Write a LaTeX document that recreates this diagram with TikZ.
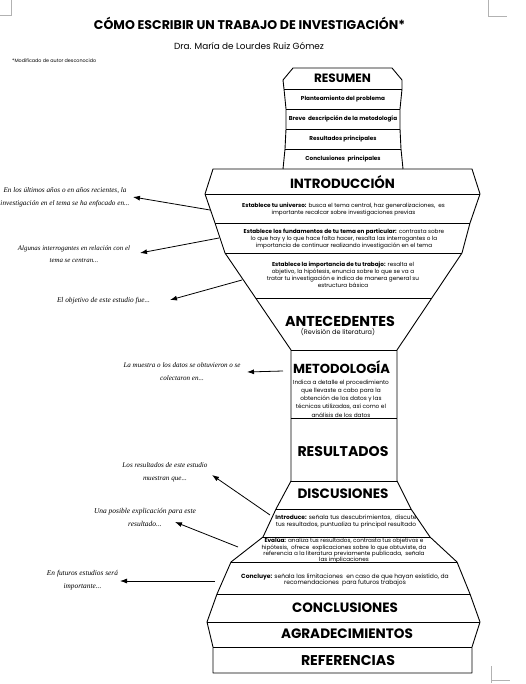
\documentclass[tikz,border=0pt]{standalone}
\usepackage{fontspec}
\newfontfamily\pop{Poppins}
\newfontfamily\hand{Liberation Serif}
\usetikzlibrary{arrows.meta,calc}
\newcommand{\hdtxt}[2]{\resizebox{#1pt}{!}{\pop\bfseries #2}}
\newcommand{\notetxt}[2]{\resizebox{#1pt}{!}{\hand\itshape\fontsize{10}{17.5}\selectfont\begin{tabular}{@{}c@{}}#2\end{tabular}}}
\begin{document}
\begin{tikzpicture}[x=1pt,y=-1pt,
  outl/.style={line width=0.9pt, line join=round},
  hd/.style={inner sep=0pt, anchor=center},
  rowtxt/.style={inner sep=0pt, font=\pop\bfseries\fontsize{5.7}{6}\selectfont},
  body/.style={inner sep=0pt, align=center, font=\pop\fontsize{5.7}{7}\selectfont},
  note/.style={inner sep=0pt, anchor=center},
  arr/.style={-{Latex[length=7pt,width=5pt]}, line width=0.8pt},
  cropmark/.style={black!30, line width=0.6pt}]
\fill[white] (0,0) rectangle (526,684);
\useasboundingbox (0,0) rectangle (526,684);

% crop marks
\draw[cropmark] (11,0) -- (11,15.5) -- (0,15.5);
\draw[cropmark] (488,0) -- (488,16) -- (507,16);
\draw[cropmark] (491,666) -- (491,683);
\draw[cropmark] (491,680) -- (510,680);

% title
\node[hd] (title) at (249.5,23) {\hdtxt{311}{CÓMO ESCRIBIR UN TRABAJO DE INVESTIGACIÓN*}};
\node[inner sep=0pt] (author) at (249,46) {\resizebox{150pt}{!}{\pop Dra. María de Lourdes Ruiz Gómez}};
\node[inner sep=0pt, anchor=west] (foot) at (12,61) {\resizebox{84pt}{!}{\pop *Modificado de autor desconocido}};

% ---------- RESUMEN ----------
\coordinate (RL0) at (293,68);  \coordinate (RR0) at (392,68);
\coordinate (RL1) at (283,80);  \coordinate (RR1) at (402,80);
\coordinate (RL2) at (284,89);  \coordinate (RR2) at (402,89);
\coordinate (RL3) at (286,109); \coordinate (RR3) at (400,109);
\coordinate (RL4) at (286,129); \coordinate (RR4) at (400,129);
\coordinate (RL5) at (285,149); \coordinate (RR5) at (401,149);
\coordinate (RL6) at (283,169); \coordinate (RR6) at (403,169);
\draw[outl] (RL6) -- (RL5) -- (RL4) -- (RL3) -- (RL2) -- (RL1) -- (RL0) -- (RR0)
  -- (RR1) -- (RR2) -- (RR3) -- (RR4) -- (RR5) -- (RR6);
\foreach \i in {2,3,4,5} \draw[outl] (RL\i) -- (RR\i);

% ---------- main outline ----------
\coordinate (IL0) at (213,169); \coordinate (IR0) at (472,169);
\coordinate (IL1) at (205,194); \coordinate (IR1) at (480,194);
\coordinate (IL2) at (215,223); \coordinate (IR2) at (470,223);
\coordinate (IL3) at (225,253); \coordinate (IR3) at (462,253);
\coordinate (ML0) at (291,350); \coordinate (MR0) at (397,350);
\coordinate (IL4) at ($(IL3)!0.464!(ML0)$);
\coordinate (IR4) at ($(IR3)!0.464!(MR0)$);
\coordinate (ML1) at (291,418); \coordinate (MR1) at (397,418);
\coordinate (ML2) at (291,481); \coordinate (MR2) at (397,481);
\coordinate (DL1) at (276,509); \coordinate (DR1) at (411,509);
\coordinate (EL1) at (263,537); \coordinate (ER1) at (430,537);
\coordinate (FL1) at (231,562); \coordinate (FR1) at (457,562);
\coordinate (GL1) at (217,594); \coordinate (GR1) at (470,594);
\coordinate (HL1) at (207,622); \coordinate (HR1) at (480,622);
\coordinate (KL1) at (213,647); \coordinate (KR1) at (472,647);
\coordinate (KL2) at (213,673); \coordinate (KR2) at (472,673);

\draw[outl] (IL0) -- (IL1) -- (IL2) -- (IL3) -- (ML0) -- (ML2) -- (DL1) -- (EL1)
  -- (FL1) -- (GL1) -- (HL1) -- (KL1) -- (KL2) -- (KR2) -- (KR1) -- (HR1) -- (GR1)
  -- (FR1) -- (ER1) -- (DR1) -- (MR2) -- (MR0) -- (IR3) -- (IR2) -- (IR1) -- (IR0) -- cycle;
\foreach \a/\b in {IL1/IR1,IL2/IR2,IL3/IR3,IL4/IR4,ML0/MR0,ML1/MR1,ML2/MR2,DL1/DR1,EL1/ER1,FL1/FR1,GL1/GR1,HL1/HR1,KL1/KR1}
  \draw[outl] (\a) -- (\b);

% ---------- texts in the shape ----------
\node[hd] (hres) at (342.5,78) {\hdtxt{57}{RESUMEN}};
\node[rowtxt] (r1) at (343,99) {Planteamiento del problema};
\node[rowtxt] (r2) at (343,119) {Breve \ descripción de la metodología};
\node[rowtxt] (r3) at (343,139) {Resultados principales};
\node[rowtxt] (r4) at (343,159) {Conclusiones \ principales};

\node[hd] (hintro) at (342.5,182) {\hdtxt{105}{INTRODUCCIÓN}};
\node[body] (tuni) at (343.5,209) {\textbf{Establece tu universo:} busca el tema central, haz generalizaciones, \ es\\ importante recalcar sobre investigaciones previas};
\node[body] (tfun) at (344,238.5) {\textbf{Establece los fundamentos de tu tema en particular:} contrasta sobre\\ lo que hay y lo que hace falta hacer, resalta las interrogantes o la\\ importancia de continuar realizando investigación en el tema};
\node[body] (timp) at (343,275) {\textbf{Establece la importancia de tu trabajo:} resalta el\\ objetivo, la hipótesis, enuncia sobre lo que se va a\\ tratar tu investigación e indica de manera general su\\ estructura básica};

\node[hd] (hant) at (340,321) {\hdtxt{110}{ANTECEDENTES}};
\node[inner sep=0pt, font=\pop\fontsize{6.5}{7}\selectfont] (trev) at (338,332) {(Revisión de literatura)};

\node[hd] (hmet) at (341.5,367.5) {\hdtxt{97}{METODOLOGÍA}};
\node[body, font=\pop\fontsize{5.8}{8.2}\selectfont] (tmet) at (341,398.5) {Indica a detalle el procedimiento\\ que llevaste a cabo para la\\ obtención de los datos y las\\ técnicas utilizadas, así como el\\ análisis de los datos};

\node[hd] (hresu) at (343,451.5) {\hdtxt{91}{RESULTADOS}};
\node[hd] (hdisc) at (343,494) {\hdtxt{91}{DISCUSIONES}};

\node[body, font=\pop\fontsize{5.9}{7}\selectfont] (tint) at (346,522) {\textbf{Introduce:} señala tus descubrimientos, \ discute\\ tus resultados, puntualiza tu principal resultado};
\node[body, font=\pop\fontsize{5.7}{6.2}\selectfont] (teva) at (344,550.5) {\textbf{Evalúa:} analiza tus resultados, contrasta tus objetivos e\\ hipótesis, \ ofrece \ explicaciones sobre lo que obtuviste, da\\ referencia a la literatura previamente publicada, \ señala\\ las implicaciones};
\node[body, font=\pop\fontsize{6.0}{6.8}\selectfont] (tcon) at (345,580) {\textbf{Concluye:} señala las limitaciones \ en caso de que hayan existido, da\\ recomendaciones \ para futuros trabajos};

\node[hd] (hconcl) at (345,608) {\hdtxt{106}{CONCLUSIONES}};
\node[hd] (hagr) at (347,634) {\hdtxt{132}{AGRADECIMIENTOS}};
\node[hd] (href) at (348,660) {\hdtxt{94}{REFERENCIAS}};

% ---------- notes ----------
\node[note] (n1) at (65,196.5) {\notetxt{129}{En los últimos años o en años recientes, la\\ investigación en el tema se ha enfocado en...}};
\node[note] (n2) at (74,254) {\notetxt{112}{Algunas interrogantes en relación con el\\ tema se centran...}};
\node[note] (n3) at (103.5,300) {\notetxt{93}{El objetivo de este estudio fue...}};
\node[note] (n4) at (182,371.5) {\notetxt{117}{La muestra o los datos se obtuvieron o se\\ colectaron en...}};
\node[note] (n5) at (165,471.5) {\notetxt{85}{Los resultados de este estudio\\ muestran que...}};
\node[note] (n6) at (145,517) {\notetxt{102}{Una posible explicación para este\\ resultado...}};
\node[note] (n7) at (82.5,579) {\notetxt{71}{En futuros estudios será\\ importante...}};

% ---------- arrows ----------
\coordinate (a1s) at (210,210); \coordinate (a1e) at (133,197);
\coordinate (a2s) at (219,238); \coordinate (a2e) at (140,253);
\coordinate (a3s) at (242,280); \coordinate (a3e) at (170,300);
\coordinate (a4s) at (283,371); \coordinate (a4e) at (247,372);
\coordinate (a5s) at (270,515); \coordinate (a5e) at (212,475);
\coordinate (a6s) at (238,547); \coordinate (a6e) at (175,522);
\coordinate (a7s) at (215,581); \coordinate (a7e) at (120,581);
\foreach \k in {1,...,7} \draw[arr] (a\k s) -- (a\k e);
\end{tikzpicture}
\end{document}
